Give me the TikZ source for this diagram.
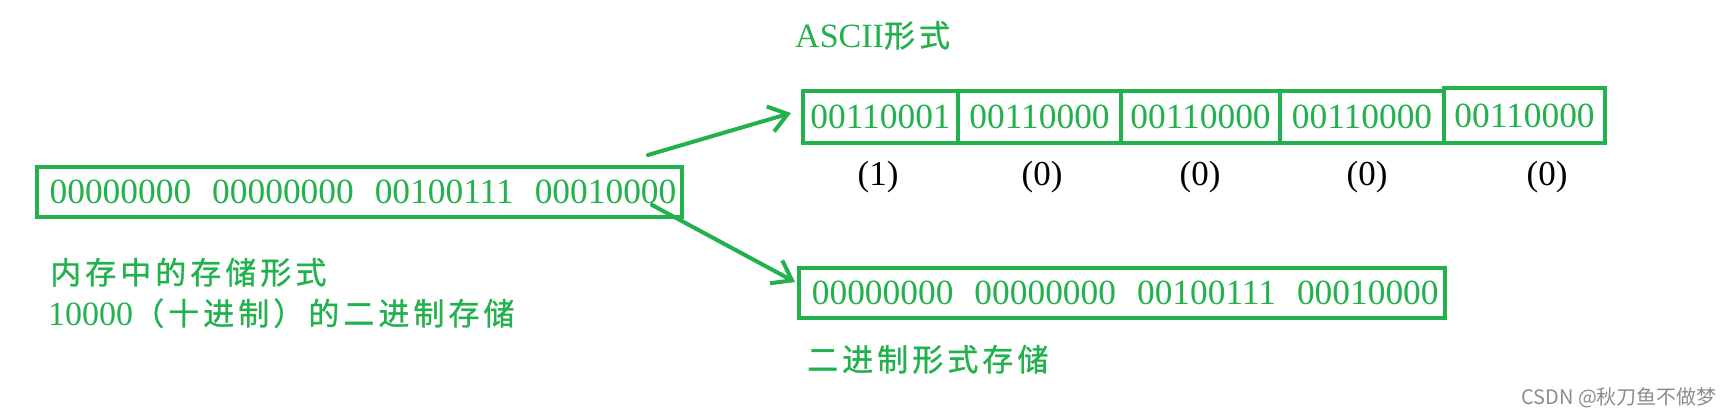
\documentclass[tikz,border=0pt]{standalone}
\usepackage{fontspec}
\setmainfont{Liberation Serif}
\newfontfamily\cjkfam[LetterSpace=13,FakeBold=1]{Noto Sans CJK SC}
\newfontfamily\wmfam{Noto Sans CJK SC}
\usetikzlibrary{arrows.meta,calc}
\definecolor{pg}{HTML}{22B14C}
\definecolor{wm}{RGB}{140,140,140}
\newcommand{\cjtext}[1]{{\cjkfam\fontsize{31}{36}\selectfont #1}}
\newcommand{\lattext}[1]{{\fontsize{34}{40}\selectfont #1}}
\newcommand{\gapsp}{\hspace{21pt}}
\begin{document}
\begin{tikzpicture}[x=1pt,y=-1pt,
  bx/.style={draw=pg, line width=4pt, inner sep=0pt, text=pg,
    font=\fontsize{35.4}{40}\selectfont},
  cell/.style={bx, minimum height=52pt},
  lbl/.style={inner sep=0pt, text=black, font=\fontsize{35}{40}\selectfont},
  captxt/.style={inner sep=0pt, anchor=base west, text=pg},
  arr/.style={draw=pg, line width=4pt, line cap=round,
    -{Straight Barb[length=18pt,width=26pt]}}
]
\useasboundingbox (0,0) rectangle (1729,416);

% left box
\node[bx, minimum width=645pt, minimum height=50pt] (mem) at (359.5,192)
  {\hspace{7pt}00000000\gapsp 00000000\gapsp 00100111\gapsp 00010000};
\node[captxt] (cap1) at (50,284) {\cjtext{内存中的存储形式}};
\node[captxt] (cap2) at (48,325) {\lattext{10000}\cjtext{（十进制）的二进制存储}};

% ASCII title
\node[captxt] (title) at (795,47) {\lattext{ASCII}\cjtext{形式}};

% ASCII cells
\node[cell, minimum width=155pt] (b1) at (880.5,117) {00110001};
\node[cell, minimum width=163pt] (b2) at (1039.5,117) {00110000};
\node[cell, minimum width=159pt] (b3) at (1200.5,117) {00110000};
\node[cell, minimum width=164pt] (b4) at (1362,117) {00110000};
\node[bx, minimum width=161pt, minimum height=55pt] (b5) at (1524.5,115.5) {00110000};

% labels
\node[lbl] (l1) at (878,177) {(1)};
\node[lbl] (l2) at (1042,177) {(0)};
\node[lbl] (l3) at (1200,177) {(0)};
\node[lbl] (l4) at (1367,177) {(0)};
\node[lbl] (l5) at (1547,177) {(0)};

% binary box
\node[bx, minimum width=645.5pt, minimum height=50pt] (bin) at (1121.75,293)
  {\hspace{7pt}00000000\gapsp 00000000\gapsp 00100111\gapsp 00010000};
\node[captxt] (cap3) at (807,371) {\cjtext{二进制形式存储}};

% arrows
\coordinate (s1) at (648,155);
\coordinate (s2) at (652,205);
\draw[arr] (s1) -- ($(b1.west)+(-10,-4)$);
\draw[arr] (s2) -- ($(bin.west)+(-2,-11)$);

% watermark
\node[inner sep=0pt, anchor=base west, text=wm, font=\wmfam\fontsize{20}{22}\selectfont]
  (wmk) at (1521,404) {CSDN @秋刀鱼不做梦};
\end{tikzpicture}
\end{document}
